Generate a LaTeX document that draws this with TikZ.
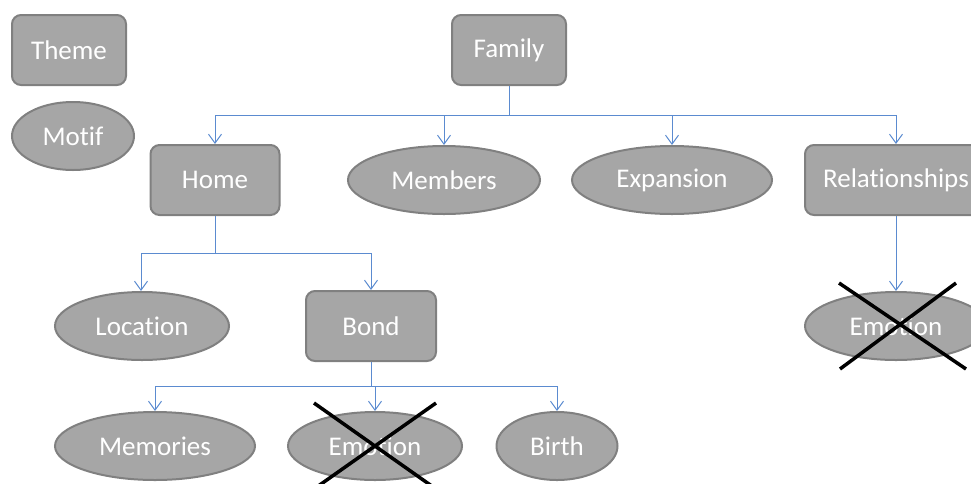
\documentclass[tikz,border=0pt]{standalone}
\usepackage{fontspec}
\setmainfont{Carlito}[Ligatures={NoCommon}]
\usepackage{xcolor}
\usetikzlibrary{shapes.geometric,arrows.meta}
\definecolor{boxfill}{HTML}{A6A6A6}
\definecolor{boxline}{HTML}{808080}
\definecolor{linkblue}{HTML}{5B8BD0}
\tikzset{
    theme/.style={shape=rectangle,rounded corners=9pt,fill=boxfill,draw=boxline,line width=2pt,text=white,inner sep=0pt,minimum height=70pt,font=\fontsize{27}{32}\selectfont},
    motif/.style={shape=ellipse,fill=boxfill,draw=boxline,line width=2pt,text=white,inner sep=0pt,minimum height=68pt,font=\fontsize{27}{32}\selectfont},
    link/.style={draw=linkblue,line width=1pt},
    arr/.style={link,-{Straight Barb[length=9pt,width=13pt,line width=1pt]}},
    xmark/.style={draw=black,line width=3.5pt}
}

\begin{document}
\begin{tikzpicture}[x=1pt,y=-1pt]
    \useasboundingbox (0,0) rectangle (971,483);
    \clip (0,0) rectangle (971,483);
    \node[theme,minimum width=114pt] (theme) at (69,50) {Theme};
    \node[motif,minimum width=122pt] (motif) at (73,136) {Motif};
    \node[theme,minimum width=114pt] (family) at (509,50) {Family};
    \node[theme,minimum width=129pt] (home) at (215,180) {Home};
    \node[motif,minimum width=192pt] (members) at (444,180) {Members};
    \node[motif,minimum width=200pt] (expansion) at (672,180) {Expansion};
    \node[theme,minimum width=182pt] (relations) at (896,180) {Relationships};
    \node[motif,minimum width=174pt] (location) at (142,326) {Location};
    \node[theme,minimum width=130pt] (bond) at (371,326) {Bond};
    \node[motif,minimum width=182pt] (emotionA) at (896,326) {Emotion};
    \node[motif,minimum width=200pt] (memories) at (155,446) {Memories};
    \node[motif,minimum width=174pt] (emotionB) at (375,446) {Emotion};
    \node[motif,minimum width=121pt] (birth) at (557,446) {Birth};
    \coordinate (jfam) at (509,115);
    \coordinate (jhome) at (215,253);
    \coordinate (jbond) at (371,386);
    \draw[link] (family.south) -- (jfam);
    \draw[arr] (jfam) -| (home.north);
    \draw[arr] (jfam) -| (members.north);
    \draw[arr] (jfam) -| (expansion.north);
    \draw[arr] (jfam) -| (relations.north);
    \draw[link] (home.south) -- (jhome);
    \draw[arr] (jhome) -| ([xshift=-1pt]location.north);
    \draw[arr] (jhome) -| (bond.north);
    \draw[link] (bond.south) -- (jbond);
    \draw[arr] (jbond) -| (memories.north);
    \draw[arr] (jbond) -| (emotionB.north);
    \draw[arr] (jbond) -| (birth.north);
    \draw[arr] (relations.south) -- (emotionA.north);
    \draw[xmark] ([shift={(-57,-43)}]emotionA.center) -- ([shift={(70,43)}]emotionA.center);
    \draw[xmark] ([shift={(60,-43)}]emotionA.center) -- ([shift={(-56,43)}]emotionA.center);
    \draw[xmark] ([shift={(-61,-43)}]emotionB.center) -- ([shift={(61,43)}]emotionB.center);
    \draw[xmark] ([shift={(61,-43)}]emotionB.center) -- ([shift={(-61,43)}]emotionB.center);
\end{tikzpicture}
\end{document}
